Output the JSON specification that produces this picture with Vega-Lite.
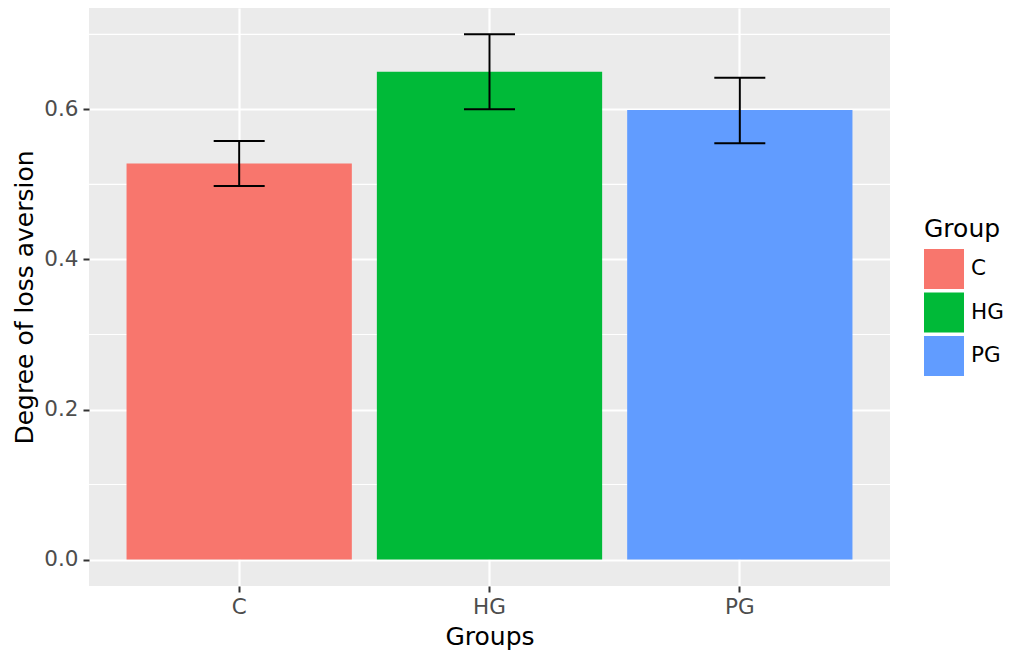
{
  "$schema": "https://vega.github.io/schema/vega-lite/v6.json",
  "width": 801,
  "height": 578,
  "autosize": {"type": "none"},
  "padding": {"left": 89, "top": 8, "right": 120, "bottom": 72},
  "background": "white",
  "config": {
    "view": {"stroke": null, "fill": "#EBEBEB"},
    "font": "DejaVu Sans",
    "axis": {
      "domain": false,
      "tickColor": "#333333",
      "tickWidth": 2,
      "tickSize": 6,
      "labelColor": "#4D4D4D",
      "labelFontSize": 21.5,
      "labelFont": "DejaVu Sans",
      "titleFont": "DejaVu Sans",
      "titleFontSize": 25,
      "titleColor": "black",
      "titleFontWeight": "normal",
      "gridColor": "white",
      "gridWidth": 2.2,
      "gridOpacity": 1
    },
    "axisY": {"labelPadding": 5, "titlePadding": 6},
    "axisX": {"labelPadding": 4, "titlePadding": 7},
    "legend": {
      "orient": "none",
      "legendX": 835,
      "legendY": 209,
      "titleFontSize": 25,
      "titleFontWeight": "normal",
      "titleColor": "black",
      "titleFont": "DejaVu Sans",
      "titlePadding": 7,
      "labelFontSize": 21.5,
      "labelFont": "DejaVu Sans",
      "labelColor": "black",
      "labelOffset": 7,
      "symbolType": "square",
      "symbolSize": 1600,
      "symbolStrokeWidth": 0,
      "symbolOpacity": 1,
      "rowPadding": 3.5
    }
  },
  "datasets": {
    "bars": [
      {"Group": "C", "mean": 0.528, "lo": 0.498, "hi": 0.558},
      {"Group": "HG", "mean": 0.650, "lo": 0.600, "hi": 0.700},
      {"Group": "PG", "mean": 0.599, "lo": 0.555, "hi": 0.642}
    ],
    "minor": [{"v": 0.1}, {"v": 0.3}, {"v": 0.5}, {"v": 0.7}]
  },
  "layer": [
    {
      "data": {"name": "minor"},
      "mark": {"type": "rule", "color": "white", "strokeWidth": 1.1},
      "encoding": {
        "y": {
          "field": "v",
          "type": "quantitative",
          "title": "Degree of loss aversion",
          "scale": {"domain": [-0.0352, 0.7351], "nice": false, "zero": false},
          "axis": {"values": [0, 0.2, 0.4, 0.6], "format": ".1f", "grid": true}
        }
      }
    },
    {
      "data": {"name": "bars"},
      "mark": {"type": "bar"},
      "encoding": {
        "x": {
          "field": "Group",
          "type": "nominal",
          "title": "Groups",
          "scale": {"paddingInner": 0.1, "paddingOuter": 0.15},
          "axis": {"labelAngle": 0, "grid": true, "bandPosition": 0.5}
        },
        "y": {
          "field": "mean",
          "type": "quantitative",
          "title": "Degree of loss aversion",
          "axis": {"values": [0, 0.2, 0.4, 0.6], "format": ".1f", "grid": true}
        },
        "color": {
          "field": "Group",
          "type": "nominal",
          "title": "Group",
          "scale": {"domain": ["C", "HG", "PG"], "range": ["#F8766D", "#00BA38", "#619CFF"]}
        }
      }
    },
    {
      "data": {"name": "bars"},
      "mark": {"type": "rule", "color": "black", "strokeWidth": 2},
      "encoding": {
        "x": {"field": "Group", "type": "nominal", "title": "Groups"},
        "y": {"field": "lo", "type": "quantitative", "title": "Degree of loss aversion"},
        "y2": {"field": "hi"}
      }
    },
    {
      "data": {"name": "bars"},
      "mark": {"type": "tick", "color": "black", "size": 51, "thickness": 2, "opacity": 1},
      "encoding": {
        "x": {"field": "Group", "type": "nominal", "title": "Groups"},
        "y": {"field": "lo", "type": "quantitative", "title": "Degree of loss aversion"}
      }
    },
    {
      "data": {"name": "bars"},
      "mark": {"type": "tick", "color": "black", "size": 51, "thickness": 2, "opacity": 1},
      "encoding": {
        "x": {"field": "Group", "type": "nominal", "title": "Groups"},
        "y": {"field": "hi", "type": "quantitative", "title": "Degree of loss aversion"}
      }
    }
  ]
}
